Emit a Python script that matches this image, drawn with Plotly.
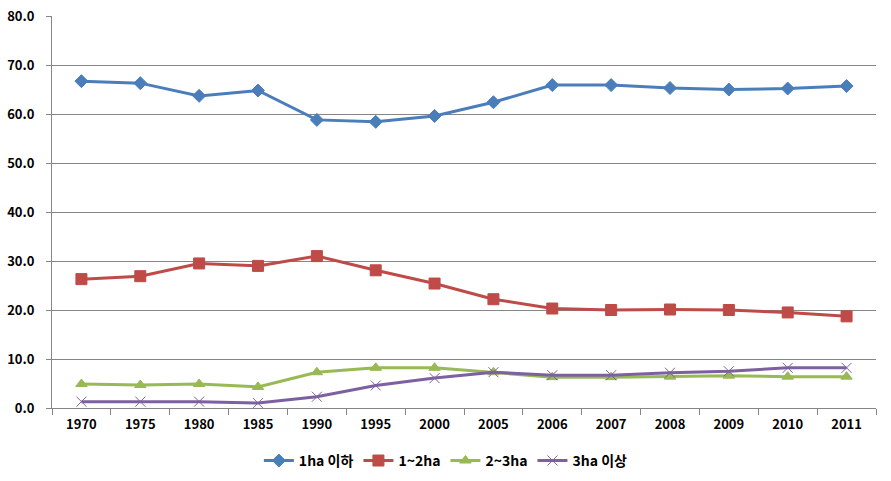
import plotly.graph_objects as go

years = ["1970", "1975", "1980", "1985", "1990", "1995", "2000", "2005",
         "2006", "2007", "2008", "2009", "2010", "2011"]
s_1ha = [66.7, 66.3, 63.7, 64.8, 58.8, 58.4, 59.6, 62.4, 65.9, 65.9, 65.3, 65.0, 65.2, 65.7]
s_1_2 = [26.3, 26.9, 29.5, 29.0, 31.0, 28.1, 25.4, 22.2, 20.3, 20.0, 20.1, 20.0, 19.5, 18.7]
s_2_3 = [4.9, 4.7, 4.9, 4.3, 7.3, 8.2, 8.2, 7.3, 6.3, 6.3, 6.4, 6.6, 6.4, 6.4]
s_3ha = [1.3, 1.3, 1.3, 1.0, 2.3, 4.6, 6.1, 7.3, 6.7, 6.7, 7.2, 7.5, 8.2, 8.2]
names = ["1ha 이하", "1~2ha", "2~3ha", "3ha 이상"]
y_ticks = [0, 10, 20, 30, 40, 50, 60, 70, 80]

colors = ["#4A7EBB", "#BE4B48", "#98B954", "#7D60A0"]
symbols = ["diamond", "square", "triangle-up", "x-thin"]
sizes = [10, 11, 10, 10]

fig = go.Figure()
for vals, name, c, sym, sz in zip([s_1ha, s_1_2, s_2_3, s_3ha], names, colors, symbols, sizes):
    fig.add_trace(go.Scatter(
        x=years, y=vals, name=name, mode="lines+markers",
        line=dict(color=c, width=3),
        marker=dict(symbol=sym, size=sz, color=c, line=dict(color=c, width=1)),
    ))

font = "Noto Sans CJK KR, Arial, sans-serif"
fig.update_layout(
    width=891, height=481,
    margin=dict(l=52, r=15, t=16, b=73, autoexpand=False),
    plot_bgcolor="white", paper_bgcolor="white",
    font=dict(family=font, size=13, color="black"),
    showlegend=True,
    legend=dict(orientation="h", x=0.478, xanchor="center", y=-0.135, yanchor="middle",
                font=dict(family=font, size=14, color="black", weight="bold"),
                itemwidth=30, traceorder="normal"),
    xaxis=dict(type="category", range=[-0.5, 13.5], tickson="boundaries",
               ticks="outside", ticklen=6, tickcolor="#868686",
               showline=True, linecolor="#868686", linewidth=1,
               showgrid=False, zeroline=False, ticklabelstandoff=4,
               tickfont=dict(family=font, size=13, color="black", weight="bold")),
    yaxis=dict(range=[0, 80], tickvals=y_ticks, tickformat=".1f",
               ticks="outside", ticklen=5, tickcolor="#868686",
               showline=True, linecolor="#868686", linewidth=1,
               showgrid=True, gridcolor="#868686", gridwidth=1, zeroline=False,
               ticklabelstandoff=9,
               tickfont=dict(family=font, size=13, color="black", weight="bold")),
)

fig.write_html(
    "out.html",
    config={"displayModeBar": False},
    post_script="document.body.style.margin='0';document.body.style.overflow='hidden';",
)
